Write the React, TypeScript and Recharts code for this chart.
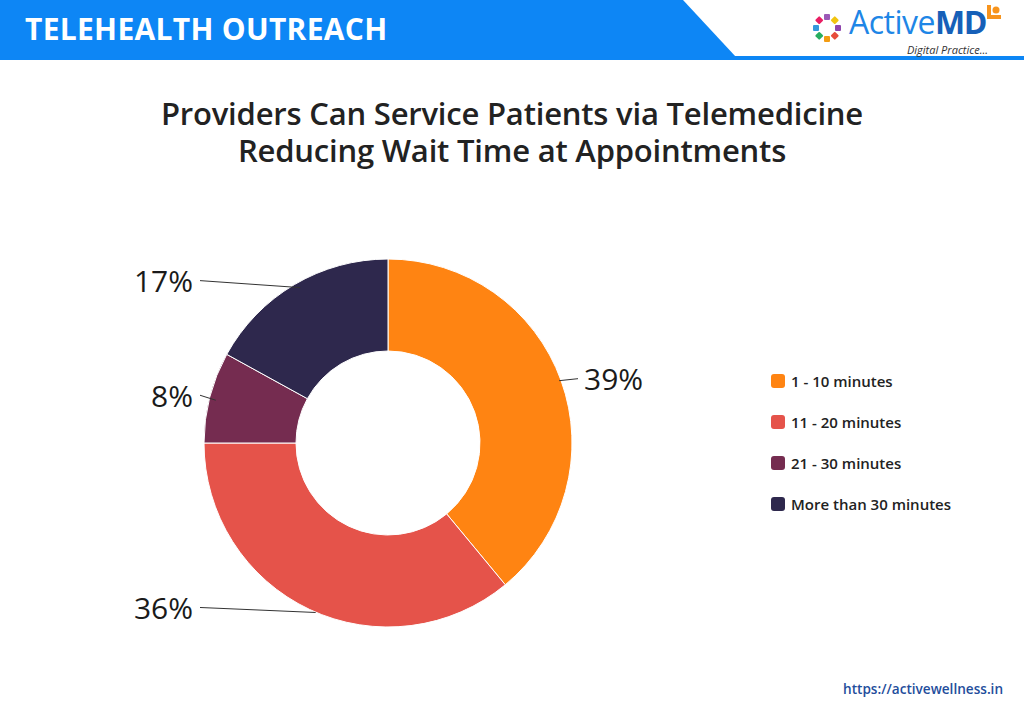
import React from "react";
import { PieChart, Pie, Cell, Legend } from "recharts";

const categories = ["1 - 10 minutes", "11 - 20 minutes", "21 - 30 minutes", "More than 30 minutes"];
const values = [39, 36, 8, 17];
const colors = ["#FF8412", "#E5534A", "#752C50", "#2E284D"];

const data = categories.map((name, i) => ({ name, value: values[i] }));

const RADIAN = Math.PI / 180;
const FONT = "'Open Sans', 'Noto Sans', sans-serif";

const renderLabel = (props: any) => {
  const { cx, cy, midAngle, outerRadius, value } = props;
  const px = cx + outerRadius * Math.cos(-midAngle * RADIAN);
  const py = cy + outerRadius * Math.sin(-midAngle * RADIAN);
  const left = px < cx;
  const lineEnd = left ? cx - 188 : cx + 190;
  const textX = left ? cx - 195 : cx + 196;
  const ty = py - (left && py < cy - 100 ? 4 : 2);
  return (
    <g>
      <line x1={left ? px + 6 : px - 2} y1={py + (left ? 3 : 0)} x2={lineEnd} y2={ty} stroke="#333" strokeWidth={1} />
      <text
        x={textX}
        y={ty}
        textAnchor={left ? "end" : "start"}
        dominantBaseline="central"
        fontFamily={FONT}
        fontSize={30}
        fill="#1a1a1a"
      >
        {value}%
      </text>
    </g>
  );
};

const LegendContent = () => (
  <div style={{ fontFamily: FONT }}>
    {data.map((d, i) => (
      <div key={d.name} style={{ display: "flex", alignItems: "center", height: 41 }}>
        <div style={{ width: 14, height: 14, borderRadius: 3, background: colors[i], marginRight: 6 }} />
        <span style={{ fontSize: 15, fontWeight: 600, color: "#222" }}>{d.name}</span>
      </div>
    ))}
  </div>
);

const Logo = () => {
  const dots = ["#8e44ad", "#e74c3c", "#f39c12", "#27ae60", "#3498db", "#e91e63", "#9b59b6", "#f1c40f"];
  return (
    <svg width={30} height={32} viewBox="0 0 30 32">
      {dots.map((c, i) => {
        const a = (i / dots.length) * Math.PI * 2;
        const x = 15 + 11 * Math.cos(a);
        const y = 16 + 11 * Math.sin(a);
        return <rect key={i} x={x - 3} y={y - 3} width={6} height={6} rx={1} fill={c} transform={`rotate(${(a * 180) / Math.PI} ${x} ${y})`} />;
      })}
    </svg>
  );
};

export default function App() {
  return (
    <div style={{ position: "absolute", left: 0, top: 0, width: 1024, height: 724, background: "#fff", overflow: "hidden" }}>
      <svg width={1024} height={62} style={{ position: "absolute", left: 0, top: 0 }}>
        <polygon points="0,0 683,0 736,57 0,57" fill="#0D86F5" />
        <rect x={0} y={56} width={1024} height={4} fill="#0D86F5" />
      </svg>
      <div
        style={{
          position: "absolute",
          left: 25,
          top: 9,
          fontFamily: FONT,
          fontWeight: 700,
          fontSize: 30,
          lineHeight: "40px",
          color: "#fff",
          letterSpacing: 0.3,
        }}
      >
        TELEHEALTH OUTREACH
      </div>
      <div style={{ position: "absolute", left: 812, top: 12 }}>
        <Logo />
      </div>
      <div style={{ position: "absolute", left: 849, top: 6, height: 32, whiteSpace: "nowrap", lineHeight: "32px" }}>
        <span style={{ fontFamily: FONT, fontSize: 32, color: "#1E86E6", letterSpacing: -0.5 }}>Active</span>
        <span style={{ fontFamily: FONT, fontSize: 32, fontWeight: 700, color: "#1660B8", letterSpacing: -1.5 }}>MD</span>
      </div>
      <div style={{ position: "absolute", left: 987, top: 5, width: 14, height: 14 }}>
        <svg width={14} height={14}>
          <rect x={0} y={0} width={4} height={14} fill="#F7941D" />
          <rect x={0} y={10} width={14} height={4} fill="#F7941D" />
          <circle cx={9} cy={5} r={3.5} fill="#F7941D" />
        </svg>
      </div>
      <div style={{ position: "absolute", left: 907, top: 44, fontFamily: FONT, fontStyle: "italic", fontSize: 11, lineHeight: "12px", color: "#333" }}>
        Digital Practice...
      </div>
      <div
        style={{
          position: "absolute",
          left: 0,
          top: 95,
          width: 1024,
          textAlign: "center",
          fontFamily: FONT,
          fontWeight: 600,
          fontSize: 31,
          lineHeight: "37px",
          color: "#222",
          letterSpacing: -0.2,
        }}
      >
        Providers Can Service Patients via Telemedicine
        <br />
        Reducing Wait Time at Appointments
      </div>
      <div style={{ position: "absolute", left: 0, top: 0 }}>
        <PieChart width={1024} height={724}>
          <Pie
            data={data}
            dataKey="value"
            nameKey="name"
            cx={383}
            cy={438}
            innerRadius={92}
            outerRadius={184}
            startAngle={90}
            endAngle={-270}
            stroke="#fff"
            strokeWidth={1}
            label={renderLabel}
            labelLine={false}
            isAnimationActive={false}
          >
            {data.map((d, i) => (
              <Cell key={d.name} fill={colors[i]} />
            ))}
          </Pie>
          <Legend
            layout="vertical"
            content={<LegendContent />}
            wrapperStyle={{ position: "absolute", left: 771, top: 360, width: 230 }}
          />
        </PieChart>
      </div>
      <div
        style={{
          position: "absolute",
          left: 843,
          top: 679,
          fontFamily: FONT,
          fontWeight: 600,
          fontSize: 13.6,
          color: "#1F4E9C",
        }}
      >
        https://activewellness.in
      </div>
    </div>
  );
}
